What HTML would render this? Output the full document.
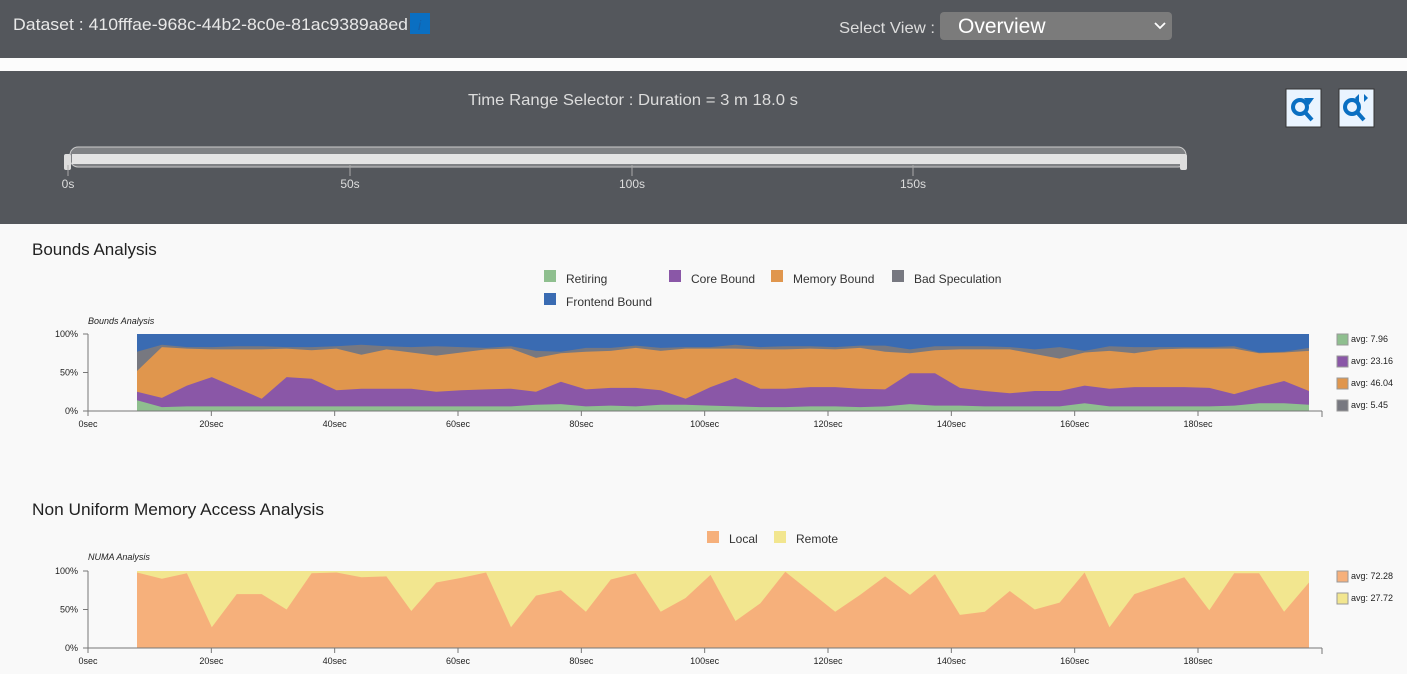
<!DOCTYPE html>
<html><head><meta charset="utf-8">
<style>
html,body{margin:0;padding:0;background:#f9f9f9;width:1407px;height:674px;overflow:hidden;font-family:"Liberation Sans",sans-serif;}
svg text{font-family:"Liberation Sans",sans-serif;}
</style></head>
<body>
<svg id="s" width="1407" height="674" xmlns="http://www.w3.org/2000/svg">
<rect x="0" y="0" width="1407" height="58" fill="#54575c"/>
<rect x="0" y="58" width="1407" height="13" fill="#fcfcfc"/>
<rect x="0" y="71" width="1407" height="153" fill="#54575c"/>
<text x="13" y="30" font-size="17" fill="#e8e8e8" textLength="395" lengthAdjust="spacingAndGlyphs">Dataset : 410fffae-968c-44b2-8c0e-81ac9389a8ed</text>
<rect x="410" y="13" width="20" height="21" fill="#0a6fc2"/>
<text x="418" y="30" font-size="14" fill="#1560a8" font-style="italic" font-family="Liberation Serif">i</text>
<text x="839" y="33" font-size="16" fill="#ddd" textLength="96" lengthAdjust="spacingAndGlyphs">Select View :</text>
<rect x="940" y="12" width="232" height="28" rx="4" fill="#7b7b7b"/>
<text x="958" y="33" font-size="21" fill="#fff">Overview</text>
<path d="M1155 23 l5 5 l5 -5" stroke="#fff" stroke-width="1.8" fill="none"/>
<text x="468" y="105" font-size="16" fill="#ddd" textLength="330" lengthAdjust="spacingAndGlyphs">Time Range Selector : Duration = 3 m 18.0 s</text>
<rect x="1286" y="89" width="35" height="38" fill="#eaf4ff" stroke="#333"/>
<rect x="1339" y="89" width="35" height="38" fill="#eaf4ff" stroke="#333"/>
<circle cx="1300" cy="107" r="7" stroke="#0a6fc2" stroke-width="4" fill="none"/>
<path d="M1304 111 l8 9" stroke="#0a6fc2" stroke-width="4"/>
<path d="M1304 98 l10 0 l-5 7z" fill="#0a6fc2"/>
<circle cx="1352" cy="107" r="7" stroke="#0a6fc2" stroke-width="4" fill="none"/>
<path d="M1356 111 l8 9" stroke="#0a6fc2" stroke-width="4"/>
<path d="M1355 98 l4 -4 l0 8z M1368 98 l-4 -4 l0 8z" fill="#0a6fc2"/>
<rect x="70" y="147" width="1116" height="20" rx="8" fill="#7f8184" stroke="#ccc"/>
<rect x="72" y="154" width="1112" height="10" fill="#e4e4e4"/>
<rect x="64" y="154" width="7" height="16" rx="2" fill="#ddd"/>
<rect x="1180" y="154" width="7" height="16" rx="2" fill="#ddd"/>
<g stroke="#aaa"><line x1="68" y1="165" x2="68" y2="176"/><line x1="350" y1="165" x2="350" y2="176"/><line x1="632" y1="165" x2="632" y2="176"/><line x1="913" y1="165" x2="913" y2="176"/></g>
<g font-size="12" fill="#ddd" text-anchor="middle"><text x="68" y="188">0s</text><text x="350" y="188">50s</text><text x="632" y="188">100s</text><text x="913" y="188">150s</text></g>

<text x="32" y="255" font-size="17" fill="#222">Bounds Analysis</text>
<g font-size="12" fill="#333">
<rect x="544" y="270" width="12" height="12" fill="#8fbf8f"/><text x="566" y="283">Retiring</text>
<rect x="669" y="270" width="12" height="12" fill="#8a57a7"/><text x="691" y="283">Core Bound</text>
<rect x="771" y="270" width="12" height="12" fill="#e0964d"/><text x="793" y="283">Memory Bound</text>
<rect x="892" y="270" width="12" height="12" fill="#777880"/><text x="914" y="283">Bad Speculation</text>
<rect x="544" y="293" width="12" height="12" fill="#3a6bb2"/><text x="566" y="306">Frontend Bound</text>
</g>
<text x="88" y="324" font-size="9" font-style="italic" fill="#222">Bounds Analysis</text>
<g id="b"></g>
<text x="32" y="515" font-size="17" fill="#222" textLength="292" lengthAdjust="spacingAndGlyphs">Non Uniform Memory Access Analysis</text>
<g font-size="12" fill="#333">
<rect x="707" y="531" width="12" height="12" fill="#f6b07b"/><text x="729" y="543">Local</text>
<rect x="774" y="531" width="12" height="12" fill="#f2e68f"/><text x="796" y="543">Remote</text>
</g>
<text x="88" y="560" font-size="9" font-style="italic" fill="#222">NUMA Analysis</text>
<g id="n"></g>
</svg>
<script>
var NS="http://www.w3.org/2000/svg";
function X(t){return 88+t*6.1667;}
var NP=48;
function XI(i){return 137+i*(1309-137)/(NP-1);}
function el(p,tag,a,txt){var e=document.createElementNS(NS,tag);for(var k in a)e.setAttribute(k,a[k]);if(txt!==undefined)e.textContent=txt;p.appendChild(e);return e;}
function axis(g,y0,y100,legend){
 el(g,"line",{x1:88,y1:y100,x2:88,y2:y0,stroke:"#777"});
 el(g,"line",{x1:88,y1:y0,x2:1322,y2:y0,stroke:"#777"});
 el(g,"line",{x1:1322,y1:y0,x2:1322,y2:y0+6,stroke:"#777"});
 [[0,"0%"],[50,"50%"],[100,"100%"]].forEach(function(v){var y=y0-(y0-y100)*v[0]/100;el(g,"line",{x1:83,y1:y,x2:88,y2:y,stroke:"#777"});el(g,"text",{x:78,y:y+3,"font-size":9,"text-anchor":"end",fill:"#222"},v[1]);});
 for(var s=0;s<=180;s+=20){var x=X(s);el(g,"line",{x1:x,y1:y0,x2:x,y2:y0+5,stroke:"#777"});el(g,"text",{x:x,y:y0+16,"font-size":9,"text-anchor":"middle",fill:"#222"},s+"sec");}
 legend.forEach(function(l,i){var y=y100+(i*22);el(g,"rect",{x:1337,y:y,width:11,height:11,fill:l[0],stroke:"#999"});el(g,"text",{x:1351,y:y+8,"font-size":9,fill:"#222"},l[1]);});
}
function area(g,lo,hi,y0,y100,col){
 var sc=(y0-y100)/100,p=[];
 for(var i=0;i<NP;i++)p.push(XI(i).toFixed(1)+","+(y0-hi[i]*sc).toFixed(1));
 for(var i=NP-1;i>=0;i--)p.push(XI(i).toFixed(1)+","+(y0-lo[i]*sc).toFixed(1));
 el(g,"polygon",{points:p.join(" "),fill:col});
}
var B=[[14,25,52,77],[5,17,83,86],[6,33,81,83],[6,44,80,83],[6,30,80,84],[6,16,80,84],[6,44,81,83],[6,42,79,83],[6,27,81,84],[6,29,73,86],[6,29,80,84],[6,29,76,83],[6,25,72,84],[6,27,76,83],[6,28,80,82],[6,29,81,84],[8,25,69,78],[9,38,75,77],[6,28,77,82],[7,30,78,82],[6,30,82,85],[8,27,78,82],[8,16,81,83],[7,31,81,83],[6,43,81,86],[5,29,80,83],[5,29,80,84],[6,31,81,84],[6,31,80,83],[5,29,82,85],[6,28,77,85],[9,49,75,80],[7,49,79,84],[7,30,80,84],[6,26,80,84],[6,23,80,83],[6,26,74,80],[6,26,68,83],[10,33,76,78],[6,29,78,84],[6,31,75,83],[6,31,80,83],[6,31,81,83],[6,30,81,83],[7,22,81,84],[10,31,75,76],[10,39,76,77],[8,26,78,82]];
var gb=document.getElementById("b");
var z=[],h=[];for(var i=0;i<NP;i++){z.push(0);h.push(100);}
var col=function(k){return B.map(function(r){return r[k]})};
area(gb,z,h,411,334,"#3a6bb2");
area(gb,z,col(3),411,334,"#777880");
area(gb,z,col(2),411,334,"#e0964d");
area(gb,z,col(1),411,334,"#8a57a7");
area(gb,z,col(0),411,334,"#8fbf8f");
axis(gb,411,334,[["#8fbf8f","avg: 7.96"],["#8a57a7","avg: 23.16"],["#e0964d","avg: 46.04"],["#777880","avg: 5.45"]]);
var N=[98,90,97,27,70,70,50,97,98,92,93,48,85,91,98,27,68,75,47,89,97,47,65,95,35,58,99,73,47,69,93,69,96,43,47,74,50,59,98,27,70,81,92,49,97,97,47,85];
var gn=document.getElementById("n");
area(gn,z,h,648,571,"#f2e68f");
area(gn,z,N,648,571,"#f6b07b");
axis(gn,648,571,[["#f6b07b","avg: 72.28"],["#f2e68f","avg: 27.72"]]);
</script>
</body></html>
